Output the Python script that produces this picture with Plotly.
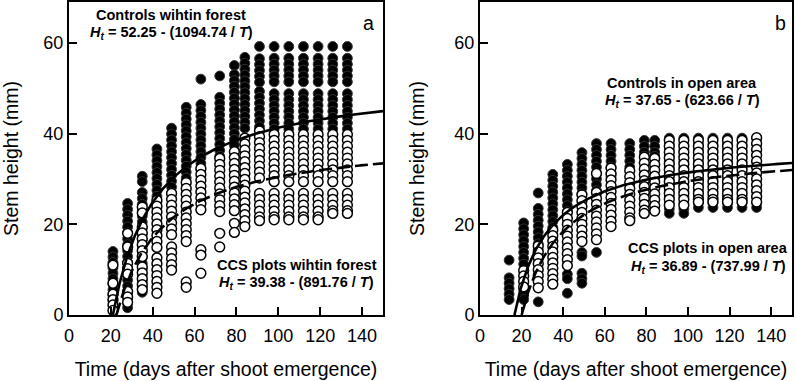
import plotly.graph_objects as go
import numpy as np

# ---------------- data ----------------
A_DAYS = [21, 28, 35, 42, 49, 56, 63, 72, 79, 84, 91, 98, 105, 112, 119, 126, 133]
A_CTRL = [
    [14.0, 12.8, 11.6, 10.4, 9.2, 8.0, 6.8, 5.6, 4.4, 3.2],
    [24.6, 23.3, 22.0, 20.7, 19.4, 18.1, 16.8, 15.5, 14.2, 12.9, 11.6, 10.3, 9.0, 7.7, 6.4, 5.1, 3.8, 2.5, 1.6],
    [30.6, 29.4, 27.0, 25.7, 24.4, 23.1, 21.8, 20.5, 19.2, 17.9, 16.6, 15.3, 14.0, 12.7, 11.4, 10.1, 8.8, 7.5, 6.2, 5.0],
    [36.6, 35.3, 34.0, 32.7, 31.4, 30.1, 28.8, 27.5, 26.2, 24.9, 23.6],
    [41.2, 39.9, 38.6, 37.3, 36.0, 34.7, 33.4, 32.1, 30.8, 29.5, 28.2, 26.9],
    [45.8, 44.5, 43.2, 41.9, 40.6, 39.3, 38.0, 36.7, 35.4, 34.1, 32.8, 31.5, 30.2],
    [52.0, 46.4, 45.1, 43.8, 42.5, 41.2, 39.9, 38.6, 37.3, 36.0, 34.7, 33.4, 32.1],
    [52.7, 48.0, 46.7, 45.4, 44.1, 42.8, 41.5, 40.2, 38.9, 37.6, 36.3, 35.0],
    [55.0, 53.0, 51.7, 50.4, 49.1, 47.8, 46.5, 45.2, 43.9, 42.6, 41.3, 40.0, 38.7, 37.4],
    [56.8, 55.5, 54.2, 52.9, 51.6, 50.3, 49.0, 47.7, 46.4, 45.1, 43.8, 42.5, 41.2],
    [59.2, 56.5, 55.2, 53.9, 52.6, 51.3, 49.3, 48.0, 46.7, 45.4, 44.1, 42.8, 41.5],
    [59.2, 56.6, 55.3, 54.0, 52.7, 51.4, 48.8, 47.5, 46.2, 44.9, 43.6, 42.3, 41.0],
    [59.2, 56.6, 55.3, 54.0, 52.7, 51.4, 48.8, 47.5, 46.2, 44.9, 43.6, 42.3, 41.0],
    [59.2, 56.6, 55.3, 54.0, 52.7, 51.4, 48.8, 47.5, 46.2, 44.9, 43.6, 42.3, 41.0],
    [59.2, 56.6, 55.3, 54.0, 52.7, 51.4, 48.8, 47.5, 46.2, 44.9, 43.6, 42.3, 41.0],
    [59.2, 56.6, 55.3, 54.0, 52.7, 51.4, 48.8, 47.5, 46.2, 44.9, 43.6, 42.3, 41.0],
    [59.2, 56.6, 55.3, 54.0, 52.7, 51.4, 48.8, 47.5, 46.2, 44.9, 43.6, 42.3, 41.0],
]
A_CCS = [
    [11.0, 7.0, 4.6, 3.4, 2.2, 1.0],
    [18.0, 15.0, 11.4, 10.2, 9.0, 5.2, 4.0, 2.8],
    [23.8, 22.5, 19.4, 18.1, 16.8, 15.5, 14.2, 12.9, 10.6, 9.3, 8.0, 6.7, 5.6],
    [25.3, 24.0, 22.7, 21.4, 20.1, 18.8, 17.5, 16.2, 14.9, 12.6, 11.3, 10.0, 8.7, 7.4, 6.1, 4.8],
    [26.8, 25.5, 24.2, 22.9, 21.6, 20.3, 19.0, 17.7, 15.0, 13.7, 12.4, 11.1, 9.9],
    [29.2, 27.9, 26.6, 25.3, 24.0, 22.7, 21.4, 20.1, 18.8, 17.5, 16.2, 7.3, 6.1],
    [32.3, 31.0, 29.7, 28.4, 27.1, 25.8, 24.5, 23.2, 14.4, 13.2, 9.2],
    [34.5, 33.2, 31.9, 30.6, 29.3, 28.0, 26.7, 25.4, 24.1, 22.8, 18.0, 15.0],
    [36.0, 34.7, 33.4, 32.1, 30.8, 29.5, 28.2, 26.9, 25.6, 24.3, 23.0, 20.2, 18.2],
    [39.0, 37.7, 36.4, 35.1, 33.8, 32.5, 31.2, 29.9, 28.6, 27.3, 26.0, 24.7, 23.4, 22.1, 20.8, 19.5],
    [40.6, 39.3, 38.0, 36.7, 35.4, 34.1, 32.8, 31.5, 30.2, 26.8, 25.5, 24.2, 22.9, 21.6, 20.8],
    [39.8, 38.5, 37.2, 35.9, 34.6, 33.3, 32.0, 30.7, 29.4, 26.8, 25.5, 24.2, 22.9, 21.6, 21.0],
    [39.8, 38.5, 37.2, 35.9, 34.6, 33.3, 32.0, 30.7, 29.4, 26.8, 25.5, 24.2, 22.9, 21.6, 21.0],
    [39.8, 38.5, 37.2, 35.9, 34.6, 33.3, 32.0, 30.7, 29.4, 26.8, 25.5, 24.2, 22.9, 21.6, 21.0],
    [39.8, 38.5, 37.2, 35.9, 34.6, 33.3, 32.0, 30.7, 29.4, 26.8, 25.5, 24.2, 22.9, 21.6, 21.0],
    [39.8, 38.5, 37.2, 35.9, 34.6, 33.3, 32.0, 30.7, 29.4, 26.8, 25.5, 24.2, 23.0, 22.4],
    [39.8, 38.5, 37.2, 35.9, 34.6, 33.3, 32.0, 30.7, 29.4, 26.8, 25.5, 24.2, 23.0, 22.4],
]

B_DAYS = [14, 21, 28, 35, 42, 49, 56, 63, 72, 79, 84, 91, 98, 105, 112, 119, 126, 133]
B_CTRL = [
    [12.1, 8.2, 7.0, 5.8, 4.6, 3.4],
    [20.3, 19.0, 17.7, 16.4, 15.1, 13.8, 12.5, 11.2, 5.6, 4.4, 3.4],
    [26.9, 23.5, 22.2, 20.9, 19.6, 18.3, 17.0, 15.7, 14.4, 13.4, 2.9],
    [31.0, 29.7, 28.4, 27.1, 25.8, 24.5, 23.2, 21.9, 20.6, 19.3],
    [33.2, 31.9, 30.6, 29.3, 28.0, 26.7, 25.4, 24.1, 22.8, 9.0, 8.0, 4.8],
    [35.8, 34.5, 33.2, 31.9, 30.6, 29.3, 28.0, 26.7, 13.8, 13.0, 9.2, 8.0, 7.0],
    [37.8, 36.5, 35.2, 33.9, 32.6, 31.3, 30.0, 28.7, 27.4, 13.8],
    [37.8, 36.5, 35.2, 33.9, 32.6, 31.3, 30.5],
    [37.8, 36.5, 35.2, 33.9, 32.6],
    [38.5, 37.2, 35.9, 35.0],
    [38.5, 37.2, 35.9, 35.0],
    [39.0, 37.7, 36.4, 35.1, 33.8, 32.5, 31.2, 29.9, 28.6, 27.3, 26.0, 24.7, 23.4, 22.4],
    [39.0, 37.7, 36.4, 35.1, 33.8, 32.5, 31.2, 29.9, 28.6, 27.3, 26.0, 24.7, 23.4, 22.4],
    [39.0, 37.7, 36.4, 35.1, 33.8, 32.5, 31.2, 29.9, 28.6, 27.3, 26.0, 24.7, 23.7],
    [39.0, 37.7, 36.4, 35.1, 33.8, 32.5, 31.2, 29.9, 28.6, 27.3, 26.0, 24.7, 23.7],
    [39.0, 37.7, 36.4, 35.1, 33.8, 32.5, 31.2, 29.9, 28.6, 27.3, 26.0, 24.7, 23.7],
    [39.0, 37.7, 36.4, 35.1, 33.8, 32.5, 31.2, 29.9, 28.6, 27.3, 26.0, 24.7, 23.7],
    [39.0, 37.7, 36.4, 35.1, 33.8, 32.5, 31.2, 29.9, 28.6, 27.3, 26.0, 24.7, 23.7],
]
B_CCS = [
    [],
    [9.8, 8.6, 7.4, 6.2],
    [15.2, 13.9, 12.6, 11.3, 10.0, 8.7, 7.4, 6.0],
    [18.7, 17.5, 16.3, 15.1, 13.9, 12.7, 11.5, 10.3, 9.1, 7.9, 6.8],
    [22.6, 21.3, 20.0, 18.7, 17.4, 16.1, 14.8, 13.5, 12.2, 10.9],
    [26.5, 25.2, 23.9, 22.6, 21.3, 20.0, 18.7, 17.4, 16.2],
    [31.2, 27.0, 25.7, 24.4, 23.1, 21.8, 20.5, 19.2, 17.9, 16.6],
    [32.4, 31.1, 29.8, 28.5, 27.2, 25.9, 24.6, 23.3, 22.0, 20.7, 19.5],
    [31.8, 30.5, 29.2, 27.9, 26.6, 25.3, 24.0, 22.7, 21.4, 20.8],
    [34.8, 33.5, 32.2, 30.9, 29.6, 28.3, 27.0, 25.7, 24.4, 23.1, 22.4],
    [34.5, 33.2, 31.9, 30.6, 29.3, 28.0, 26.7, 25.4, 24.1, 22.9],
    [38.5, 37.2, 35.9, 34.6, 33.3, 32.0, 30.7, 29.4, 28.1, 26.8, 25.5, 24.2],
    [38.5, 37.2, 35.9, 34.6, 33.3, 32.0, 30.7, 29.4, 28.1, 26.8, 25.5, 24.2],
    [38.5, 37.2, 35.9, 34.6, 33.3, 32.0, 30.7, 29.4, 28.1, 26.8, 25.5, 24.9],
    [38.5, 37.2, 35.9, 34.6, 33.3, 32.0, 30.7, 29.4, 28.1, 26.8, 25.5, 24.9],
    [38.5, 37.2, 35.9, 34.6, 33.3, 32.0, 30.7, 29.4, 28.1, 26.8, 25.5, 24.9],
    [38.5, 37.2, 35.9, 34.6, 33.3, 32.0, 30.7, 29.4, 28.1, 26.8, 25.5, 24.9],
    [39.1, 37.8, 36.5, 35.2, 33.9, 32.6, 31.3, 30.0, 28.7, 27.4, 26.1, 24.9],
]

# fitted models H_t = p0 - (p1 / T)
FIT_A_CTRL = [52.25, 1094.74]
FIT_A_CCS = [39.38, 891.76]
FIT_B_CTRL = [37.65, 623.66]
FIT_B_CCS = [36.89, 737.99]

X_TICKS = [0, 20, 40, 60, 80, 100, 120, 140]
Y_TICKS = [0, 20, 40, 60]

# ---------------- figure ----------------
W, H = 796, 381
FONT = "Liberation Sans, Arial, sans-serif"


def flat(days, vals):
    xs, ys = [], []
    for d, col in zip(days, vals):
        for v in col:
            xs.append(d)
            ys.append(v)
    return xs, ys


def curve(p, x_max=150):
    t0 = p[1] / p[0]
    t = np.linspace(t0, x_max, 300)
    return t, p[0] - p[1] / t


fig = go.Figure()
MS = 9.8
for days, ctrl, ccs, fc, fs, xa, ya in [
    (A_DAYS, A_CTRL, A_CCS, FIT_A_CTRL, FIT_A_CCS, "x", "y"),
    (B_DAYS, B_CTRL, B_CCS, FIT_B_CTRL, FIT_B_CCS, "x2", "y2"),
]:
    x, y = flat(days, ctrl)
    fig.add_trace(go.Scatter(x=x, y=y, mode="markers", xaxis=xa, yaxis=ya,
                             marker=dict(size=MS, color="black", line=dict(color="#333", width=1)),
                             showlegend=False, hoverinfo="skip"))
    x, y = flat(days, ccs)
    fig.add_trace(go.Scatter(x=x, y=y, mode="markers", xaxis=xa, yaxis=ya,
                             marker=dict(size=MS, color="white", line=dict(color="black", width=1.5)),
                             showlegend=False, hoverinfo="skip"))
    t, h = curve(fc)
    fig.add_trace(go.Scatter(x=t, y=h, mode="lines", xaxis=xa, yaxis=ya,
                             line=dict(color="black", width=2.6), showlegend=False, hoverinfo="skip"))
    t, h = curve(fs)
    fig.add_trace(go.Scatter(x=t, y=h, mode="lines", xaxis=xa, yaxis=ya,
                             line=dict(color="black", width=2.6, dash="13px,5px"),
                             showlegend=False, hoverinfo="skip"))

ax_common = dict(range=[0, 150], tickvals=X_TICKS, ticks="inside", ticklen=8, tickwidth=2,
                 tickcolor="black", showline=True, linewidth=2, linecolor="black", mirror=True,
                 showgrid=False, zeroline=False, ticklabelstandoff=3, automargin=False,
                 tickfont=dict(size=18, color="black", family=FONT),
                 title=dict(text="Time (days after shoot emergence)",
                            font=dict(size=19.5, color="black", family=FONT), standoff=18))
ay_common = dict(range=[0, 69], tickvals=Y_TICKS, ticks="inside", ticklen=8, tickwidth=2,
                 tickcolor="black", showline=True, linewidth=2, linecolor="black", mirror=True,
                 showgrid=False, zeroline=False, automargin=False,
                 tickfont=dict(size=18, color="black", family=FONT),
                 title=dict(text="Stem height (mm)",
                            font=dict(size=19.5, color="black", family=FONT), standoff=25))

ydom = [1 - 315 / H, 1 - 2 / H]
fig.update_layout(
    width=W, height=H, margin=dict(l=0, r=0, t=0, b=0, autoexpand=False),
    paper_bgcolor="white", plot_bgcolor="white",
    font=dict(family=FONT, color="black"),
    xaxis=dict(domain=[69 / W, 383 / W], anchor="y", **ax_common),
    yaxis=dict(domain=ydom, anchor="x", **ay_common),
    xaxis2=dict(domain=[480 / W, 792 / W], anchor="y2", **ax_common),
    yaxis2=dict(domain=ydom, anchor="x2", **ay_common),
)


def ann(text, px, py, size=14.5, bold=True):
    fig.add_annotation(text=("<b>%s</b>" % text) if bold else text,
                       x=px / W, y=1 - py / H, xref="paper", yref="paper",
                       xanchor="center", yanchor="middle", showarrow=False,
                       font=dict(size=size, color="black", family=FONT))


def eq(p):
    return "<i>H</i><sub><i>t</i></sub> = %.2f - (%.2f / <i>T</i>)" % (p[0], p[1])


ann("Controls wihtin forest", 171, 15)
ann(eq(FIT_A_CTRL), 171, 33)
ann("CCS plots wihtin forest", 297, 265)
ann(eq(FIT_A_CCS), 296, 283)
ann("a", 368, 23, size=19.5, bold=False)
ann("Controls in open area", 682, 83)
ann(eq(FIT_B_CTRL), 682, 101)
ann("CCS plots in open area", 708, 248)
ann(eq(FIT_B_CCS), 708, 267)
ann("b", 780, 23, size=19.5, bold=False)

fig.write_html("out.html", config={"displayModeBar": False},
               post_script="document.body.style.margin='0';document.body.style.overflow='hidden';")
